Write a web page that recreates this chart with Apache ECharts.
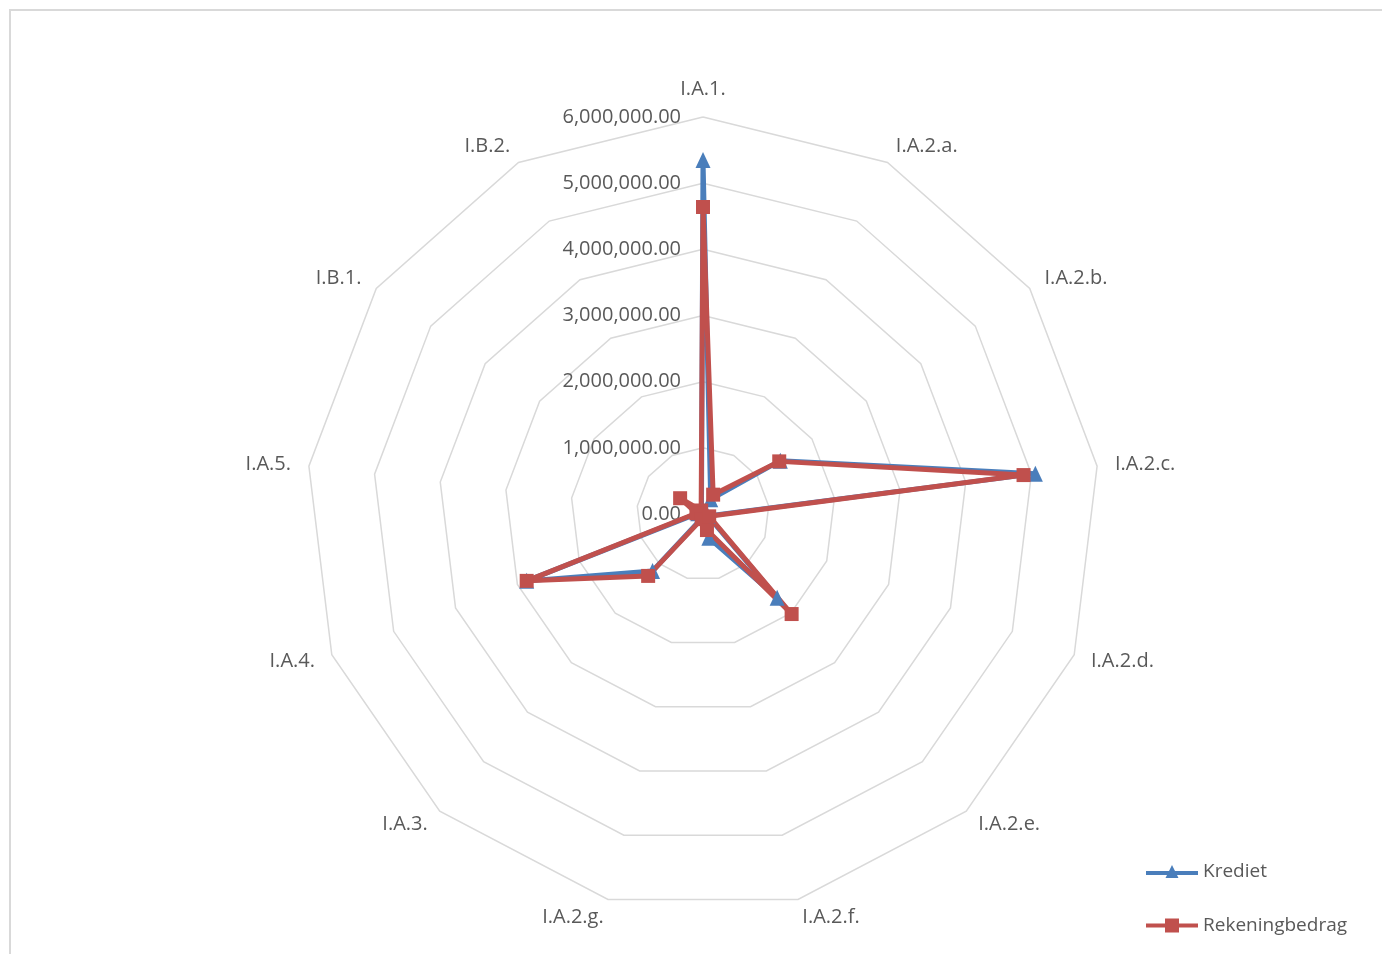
<!DOCTYPE html>
<html>
<head>
<meta charset="utf-8">
<script src="https://cdn.jsdelivr.net/npm/echarts@6/dist/echarts.min.js"></script>
<style>
    body { margin: 0; background: #fff; }
    #frame { position: absolute; left: 9px; top: 9px; width: 1400px; height: 1000px; border: 2px solid #d9d9d9; }
    #chart { position: absolute; left: 0; top: 0; width: 1382px; height: 954px; }
</style>
</head>
<body>
<div id="frame"></div>
<div id="chart"></div>
<script>
var categories = ['I.A.1.', 'I.A.2.a.', 'I.A.2.b.', 'I.A.2.c.', 'I.A.2.d.', 'I.A.2.e.', 'I.A.2.f.',
    'I.A.2.g.', 'I.A.3.', 'I.A.4.', 'I.A.5.', 'I.B.1.', 'I.B.2.'];
var krediet = [5350000, 250000, 1420000, 5060000, 80000, 1690000, 370000, 60000, 1150000, 2850000, 80000, 60000, 50000];
var rekeningbedrag = [4640000, 330000, 1400000, 4880000, 100000, 2020000, 250000, 80000, 1250000, 2850000, 100000, 420000, 60000];
var axisMax = 6000000;
var axisStep = 1000000;

var txtColor = '#595959';
var fontFam = '"Open Sans", "Noto Sans", sans-serif';

// radar goes counter-clockwise, excel goes clockwise -> keep first, reverse the rest
function clockwise(arr) {
    return [arr[0]].concat(arr.slice(1).reverse());
}

function fmt(v) {
    var s = v.toFixed(2).split('.');
    return s[0].replace(/\B(?=(\d{3})+(?!\d))/g, ',') + '.' + s[1];
}

var chart = echarts.init(document.getElementById('chart'));

var indicators = clockwise(categories).map(function (c) {
    return { name: c, min: 0, max: axisMax };
});

var triIcon = 'path://M0,6 L23,6 L26,0 L29,6 L52,6 L52,10 L31,10 L32.5,13 L19.5,13 L21,10 L0,10 Z';
var sqIcon = 'path://M0,5 L19,5 L19,0 L33,0 L33,5 L52,5 L52,9 L33,9 L33,14 L19,14 L19,9 L0,9 Z';

var option = {
    animation: false,
    legend: {
        orient: 'vertical',
        left: 1141,
        top: 857,
        itemWidth: 52,
        itemHeight: 14,
        itemGap: 35,
        textStyle: { color: txtColor, fontSize: 19, fontFamily: fontFam },
        data: [
            { name: 'Krediet', icon: triIcon },
            { name: 'Rekeningbedrag', icon: sqIcon }
        ]
    },
    radar: {
        center: [703, 514],
        radius: 397,
        shape: 'polygon',
        splitNumber: axisMax / axisStep,
        indicator: indicators,
        nameGap: 18,
        axisName: { color: txtColor, fontSize: 20, fontFamily: fontFam },
        axisLine: { show: false },
        axisTick: { show: false },
        splitArea: { show: false },
        splitLine: { lineStyle: { color: '#d9d9d9', width: 1.5 } }
    },
    // polar overlay only for the value labels on the first spoke
    polar: { center: [703, 514], radius: 397 },
    angleAxis: { show: false, startAngle: 90, min: 0, max: 360 },
    radiusAxis: {
        min: 0,
        max: axisMax,
        interval: axisStep,
        axisLine: { show: false },
        axisTick: { show: false },
        splitLine: { show: false },
        axisLabel: {
            color: txtColor,
            fontSize: 20,
            fontFamily: fontFam,
            margin: 22,
            formatter: function (v) { return fmt(v); }
        }
    },
    series: [
        {
            name: 'Krediet',
            type: 'radar',
            symbol: 'triangle',
            symbolSize: [15, 16],
            lineStyle: { color: '#4a7ebb', width: 5 },
            itemStyle: { color: '#4a7ebb' },
            data: [{ value: clockwise(krediet), name: 'Krediet' }]
        },
        {
            name: 'Rekeningbedrag',
            type: 'radar',
            symbol: 'rect',
            symbolSize: 14,
            lineStyle: { color: '#c0504d', width: 5 },
            itemStyle: { color: '#c0504d' },
            data: [{ value: clockwise(rekeningbedrag), name: 'Rekeningbedrag' }]
        }
    ]
};

chart.setOption(option);
</script>
</body>
</html>
